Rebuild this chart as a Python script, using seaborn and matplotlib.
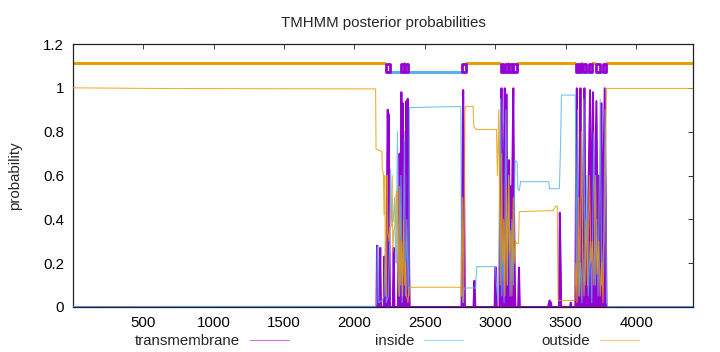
import numpy as np
import pandas as pd
import matplotlib
matplotlib.use("Agg")
import matplotlib.pyplot as plt
from matplotlib.lines import Line2D
import seaborn as sns

# ---------------- data ----------------
seq_len = 4404

# transmembrane posterior probability (breakpoints)
tm_x = [1, 2150, 2156, 2160, 2165, 2178, 2183, 2188, 2207, 2212, 2217, 2226, 2231, 2236, 2239, 2243,
        2248, 2252, 2272, 2278, 2284, 2308, 2314, 2320, 2326, 2333, 2338, 2343, 2348, 2355, 2362,
        2369, 2375, 2378, 2383, 2388, 2392, 2760, 2766, 2772, 2778, 2784, 2845, 2852, 2858, 2995,
        3000, 3006, 3010, 3030, 3037, 3044, 3050, 3055, 3060, 3067, 3073, 3079, 3085, 3091, 3098,
        3104, 3109, 3115, 3121, 3128, 3134, 3139, 3143, 3162, 3168, 3174, 3375, 3385, 3395, 3400,
        3452, 3458, 3464, 3468, 3530, 3536, 3541, 3568, 3573, 3579, 3585, 3592, 3599, 3605, 3611,
        3620, 3627, 3633, 3640, 3652, 3662, 3673, 3680, 3687, 3694, 3700, 3707, 3718, 3726, 3736,
        3745, 3753, 3760, 3768, 3777, 3784, 3790, 4404]
tm_y = [0, 0, 0, 0.28, 0, 0, 0.27, 0, 0, 0.23, 0, 0, 0.55, 0.9, 0.7, 0.88,
        0.3, 0, 0, 0.27, 0, 0, 0.3, 0.7, 0.4, 0.98, 0.55, 0.93, 0.6, 0.75, 0.45,
        0.94, 0.6, 0.95, 0.8, 0.2, 0, 0, 0.6, 0.99, 0.6, 0, 0, 0.12, 0, 0,
        0.18, 0.18, 0, 0, 0.7, 0.998, 0.4, 0.3, 0.6, 0.998, 0.5, 0.97, 0.35, 0.3, 0.67,
        0.3, 0.55, 0.3, 0.6, 0.998, 0.4, 0.1, 0, 0, 0.18, 0, 0, 0.03, 0.02, 0,
        0, 0.43, 0.2, 0, 0, 0.02, 0, 0, 0.6, 0.998, 0.3, 0.25, 0.6, 0.998, 0.3,
        0.4, 0.7, 0.998, 0.35, 0.3, 0.55, 0.99, 0.4, 0.6, 0.98, 0.3, 0.5, 0.94, 0.4, 0.6,
        0.3, 0.93, 0.4, 0.6, 0.998, 0.5, 0, 0]

# inside posterior probability (breakpoints)
in_x = [1, 2150, 2158, 2162, 2168, 2172, 2198, 2210, 2220, 2226, 2240, 2250, 2256, 2262, 2275,
        2285, 2290, 2296, 2305, 2312, 2320, 2330, 2338, 2345, 2355, 2362, 2372, 2380, 2386, 2390,
        2755, 2760, 2768, 2778, 2860, 2868, 3002, 3008, 3020, 3038, 3046, 3055, 3062, 3075, 3085,
        3095, 3105, 3118, 3128, 3140, 3155, 3160, 3170, 3180, 3380, 3385, 3455, 3462, 3470, 3568,
        3575, 3585, 3592, 3605, 3615, 3628, 3638, 3650, 3660, 3675, 3685, 3700, 3710, 3720, 3730,
        3745, 3755, 3770, 3780, 3790, 3800, 4404]
in_y = [0.002, 0.003, 0.02, 0.27, 0.28, 0.02, 0.03, 0.05, 0.3, 0.02, 0.05, 0.3, 0.63, 0.4, 0.39,
        0.5, 0.3, 0.2, 0.8, 0.3, 0.05, 0.6, 0.02, 0.2, 0.8, 0.05, 0.4, 0.1, 0.05, 0.91,
        0.915, 0.2, 0.02, 0.087, 0.087, 0.184, 0.185, 0.1, 0.02, 0.95, 0.05, 0.3, 0.02, 0.9, 0.1,
        0.6, 0.05, 0.4, 0.1, 0.67, 0.66, 0.54, 0.53, 0.572, 0.572, 0.54, 0.54, 0.7, 0.967, 0.967,
        0.1, 0.9, 0.05, 0.2, 0.02, 0.95, 0.1, 0.6, 0.05, 0.3, 0.02, 0.8, 0.1, 0.4, 0.05,
        0.95, 0.1, 0.3, 0.9, 0.02, 0.002, 0.002]

# outside posterior probability (breakpoints)
out_x = [1, 600, 2150, 2153, 2195, 2197, 2205, 2210, 2215, 2220, 2226, 2232, 2236, 2245, 2250,
         2262, 2268, 2272, 2280, 2290, 2296, 2302, 2308, 2315, 2320, 2327, 2335, 2342, 2350, 2356,
         2362, 2370, 2380, 2388, 2757, 2760, 2768, 2775, 2785, 2790, 2842, 2848, 2870, 3008, 3015,
         3025, 3035, 3045, 3052, 3060, 3068, 3078, 3085, 3095, 3102, 3110, 3118, 3128, 3135, 3145,
         3152, 3165, 3170, 3409, 3430, 3440, 3446, 3565, 3572, 3580, 3592, 3600, 3612, 3620, 3630,
         3645, 3655, 3668, 3680, 3690, 3700, 3712, 3722, 3735, 3745, 3755, 3765, 3780, 3790, 4404]
out_y = [1.0, 0.997, 0.995, 0.72, 0.71, 0.63, 0.61, 0.42, 0.6, 0.15, 0.05, 0.6, 0.35, 0.3, 0.36,
         0.37, 0.6, 0.25, 0.35, 0.37, 0.52, 0.53, 0.3, 0.05, 0.55, 0.1, 0.3, 0.05, 0.4, 0.1,
         0.2, 0.05, 0.02, 0.09, 0.09, 0.05, 0.5, 0.02, 0.9, 0.915, 0.915, 0.82, 0.81, 0.81, 0.6,
         0.9, 0.1, 0.7, 0.2, 0.4, 0.05, 0.55, 0.1, 0.6, 0.25, 0.35, 0.05, 0.5, 0.2, 0.3,
         0.29, 0.29, 0.435, 0.44, 0.46, 0.46, 0.03, 0.03, 0.2, 0.02, 0.5, 0.05, 0.8, 0.3, 0.05,
         0.4, 0.1, 0.6, 0.2, 0.3, 0.1, 0.6, 0.15, 0.3, 0.05, 0.2, 0.02, 0.6, 0.997, 0.997]

# predicted topology: segment start, end, type (o = outside, i = inside, M = TM helix)
topo_start = [1, 2224, 2252, 2330, 2349, 2361, 2382, 2762, 2790, 3038, 3057, 3069, 3088, 3097,
              3116, 3128, 3152, 3570, 3589, 3594, 3610, 3621, 3645, 3664, 3688, 3718, 3741, 3765, 3789]
topo_end = [2224, 2252, 2330, 2349, 2361, 2382, 2762, 2790, 3038, 3057, 3069, 3088, 3097, 3116,
            3128, 3152, 3570, 3589, 3594, 3610, 3621, 3645, 3664, 3688, 3718, 3741, 3765, 3789, 4404]
topo_type = ["o", "M", "i", "M", "o", "M", "i", "M", "o", "M", "i", "M", "o", "M",
             "i", "M", "o", "M", "i", "M", "o", "M", "i", "M", "o", "M", "i", "M", "o"]

series_names = ["transmembrane", "inside", "outside"]
x_ticks = [500, 1000, 1500, 2000, 2500, 3000, 3500, 4000]
y_ticks = [0, 0.2, 0.4, 0.6, 0.8, 1.0, 1.2]

# ---------------- style ----------------
sns.set_style("white")
plt.rcParams["font.family"] = ["Liberation Sans", "DejaVu Sans"]
FS = 10.8
plt.rcParams["font.size"] = FS

PURPLE = "#9400d3"
BLUE = "#56b4e9"
ORANGE = "#e69f00"

fig = plt.figure(figsize=(7.2, 3.52), dpi=100)
ax = fig.add_axes([73 / 720, 1 - 307 / 352, 620 / 720, 263 / 352])

df_tm = pd.DataFrame({"pos": tm_x, "prob": tm_y})
df_in = pd.DataFrame({"pos": in_x, "prob": in_y})
df_out = pd.DataFrame({"pos": out_x, "prob": out_y})

ax.fill_between(df_tm["pos"], df_tm["prob"], 0, color=PURPLE, lw=0, zorder=2)
sns.lineplot(data=df_tm, x="pos", y="prob", ax=ax, color=PURPLE, lw=1.4, sort=False,
             estimator=None, zorder=2)
sns.lineplot(data=df_in, x="pos", y="prob", ax=ax, color=BLUE, lw=0.8, sort=False,
             estimator=None, zorder=3, alpha=0.8)
sns.lineplot(data=df_out, x="pos", y="prob", ax=ax, color=ORANGE, lw=0.8, sort=False,
             estimator=None, zorder=4, alpha=0.8)

# topology band: outside high, inside low, TM helices as outlined boxes
seg_o = [(s, e - s) for s, e, t in zip(topo_start, topo_end, topo_type) if t == "o"]
seg_i = [(s, e - s) for s, e, t in zip(topo_start, topo_end, topo_type) if t == "i"]
seg_m = [(s, e - s) for s, e, t in zip(topo_start, topo_end, topo_type) if t == "M"]
ax.broken_barh(seg_o, (1.1035, 0.013), facecolors=ORANGE, edgecolors="none")
ax.broken_barh(seg_i, (1.0635, 0.013), facecolors=BLUE, edgecolors="none")
ax.broken_barh(seg_m, (1.07, 0.04), facecolors="none", edgecolors=PURPLE, linewidths=2.0)

ax.set_xlim(1, seq_len)
ax.set_ylim(0, 1.2)
ax.set_xticks(x_ticks)
ax.set_xticklabels([str(v) for v in x_ticks])
ax.set_yticks(y_ticks)
ax.set_yticklabels(["%g" % v for v in y_ticks])
ax.tick_params(direction="in", length=3.5, width=0.6, top=True, right=True, colors="#222222",
               labelcolor="black", labelsize=FS)
ax.tick_params(axis="y", pad=6.5)
ax.tick_params(axis="x", pad=6.5)
for sp in ax.spines.values():
    sp.set_color("#222222")
    sp.set_linewidth(0.9)

ax.set_xlabel("")
ax.set_ylabel("probability", fontsize=FS, labelpad=15)
ax.set_title("TMHMM posterior probabilities", fontsize=FS, pad=12)

# key at the bottom (text then sample), three entries
key_right = [289 / 720, 463 / 720, 639 / 720]
for name, col, xr in zip(series_names, [PURPLE, BLUE, ORANGE], key_right):
    h = Line2D([], [], color=col, lw=0.8, alpha=0.55)
    fig.legend(handles=[h], labels=[name], loc="center right", bbox_to_anchor=(xr, 1 - 341 / 352),
               frameon=False, markerfirst=False, handlelength=2.6, handletextpad=0.65,
               borderpad=0, borderaxespad=0, fontsize=FS)

fig.savefig("out.png", dpi=100)
